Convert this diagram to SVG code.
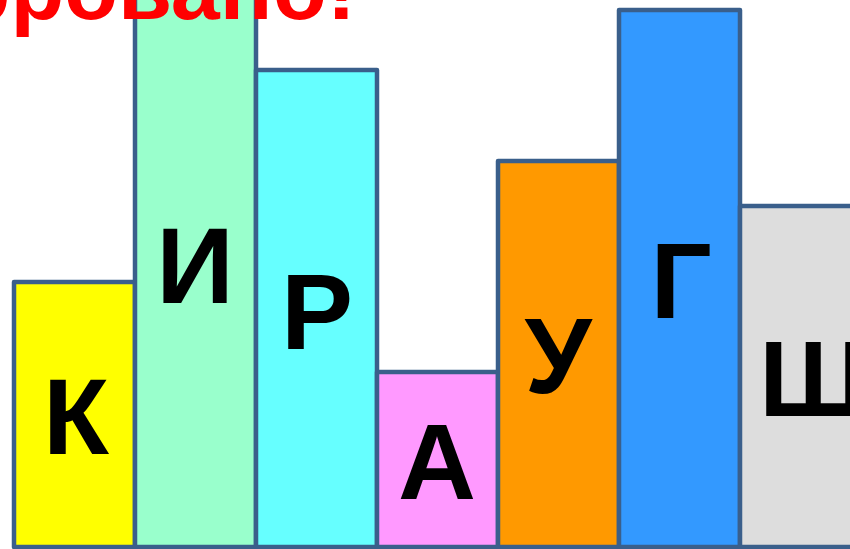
<svg xmlns="http://www.w3.org/2000/svg" width="850" height="549" viewBox="0 0 850 549">
<style>
.bar{stroke:#3A5F8B;stroke-width:4.5;stroke-linejoin:round}
.lt{font-family:"Liberation Sans",Arial,sans-serif;font-weight:bold;font-size:108px;fill:#000;text-anchor:middle}
.title{font-family:"Liberation Sans",Arial,sans-serif;font-weight:bold;font-size:88px;fill:#FF0000;text-anchor:end}
</style>
<rect width="850" height="549" fill="#FFFFFF"/>
<g id="bar-k"><rect class="bar" x="14" y="282" width="121" height="265" fill="#FFFF00"/><text class="lt" x="76" y="454">К</text></g>
<g id="bar-i"><rect class="bar" x="135" y="-10" width="121" height="557" fill="#99FFCC"/><text class="lt" x="195" y="303">И</text></g>
<g id="bar-r"><rect class="bar" x="256" y="70" width="121" height="477" fill="#66FFFF"/><text class="lt" x="317" y="349">Р</text></g>
<g id="bar-a"><rect class="bar" x="377" y="372" width="121" height="175" fill="#FF99FF"/><text class="lt" x="437" y="499">А</text></g>
<g id="bar-u"><rect class="bar" x="498" y="161" width="121" height="386" fill="#FF9900"/><text class="lt" x="558" y="393">У</text></g>
<g id="bar-g"><rect class="bar" x="619" y="10" width="121" height="537" fill="#3399FF"/><text class="lt" x="681" y="318">Г</text></g>
<g id="bar-sh"><rect class="bar" x="740" y="206" width="130" height="341" fill="#DDDDDD"/><text class="lt" x="759" y="416" style="text-anchor:start">Ш</text></g>
<g id="connectors"></g>
<g id="title"><text class="title" x="356" y="19">Зашифровано!</text></g>
</svg>
